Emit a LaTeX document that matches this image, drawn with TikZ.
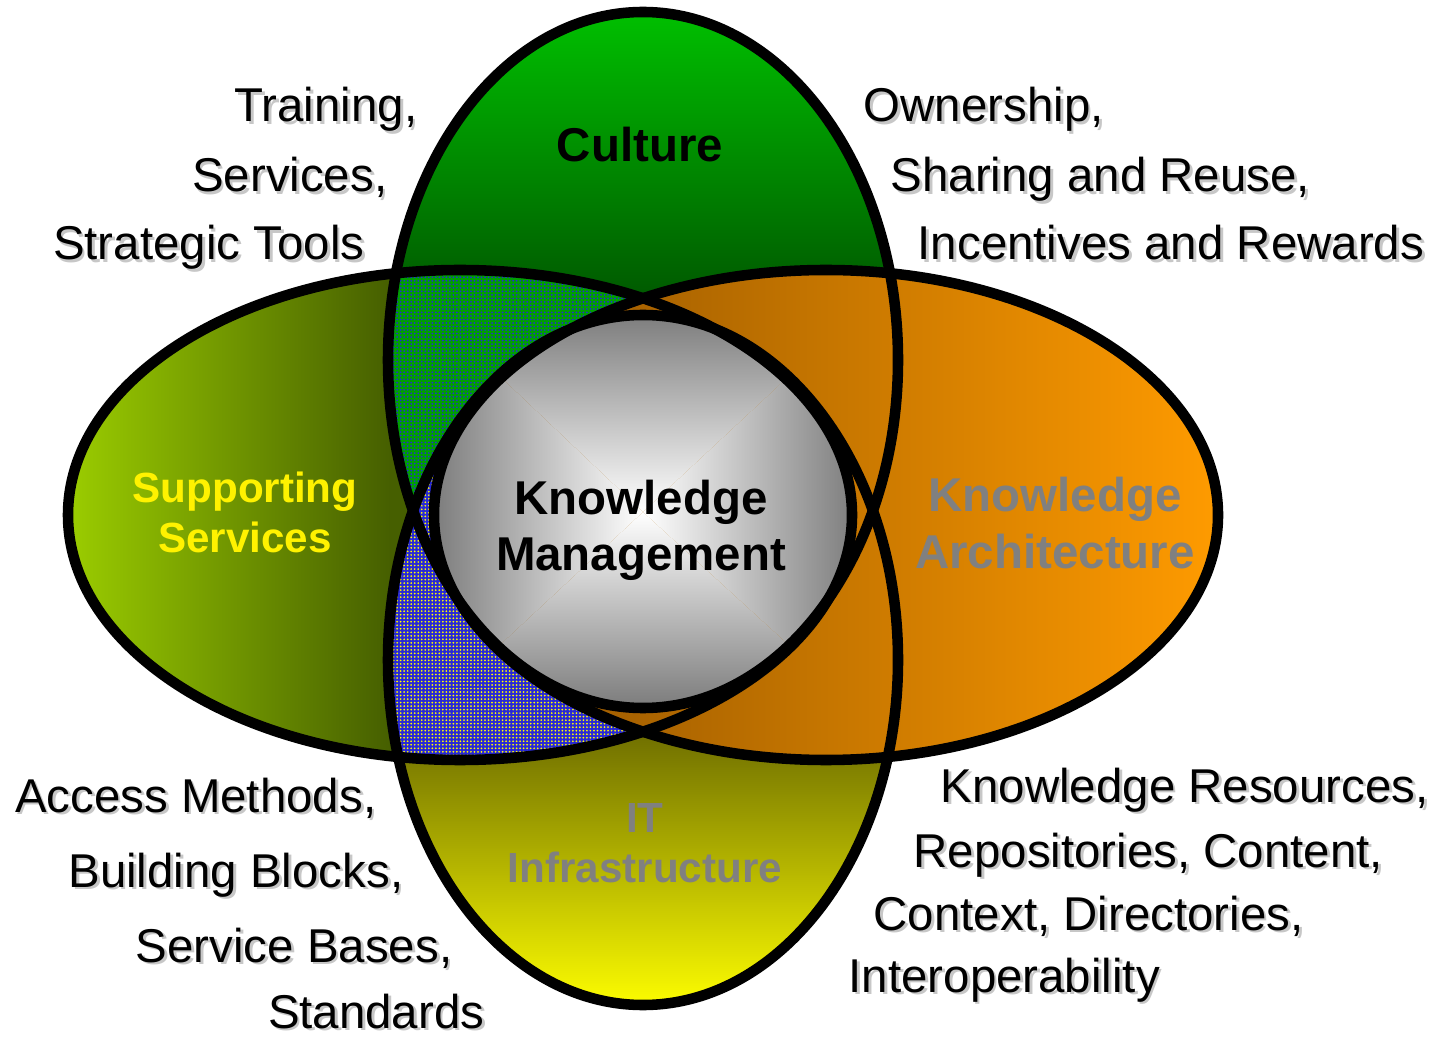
\documentclass[tikz,border=0pt]{standalone}
\usepackage{fontspec}
\setmainfont{Liberation Sans}
\usepackage{xcolor}
\usetikzlibrary{math}
\usetikzlibrary{patterns.meta}

\definecolor{cultTop}{RGB}{0,192,0}
\definecolor{cultBot}{RGB}{0,92,0}
\definecolor{suppL}{RGB}{155,205,0}
\definecolor{suppR}{RGB}{70,95,0}
\definecolor{archL}{RGB}{140,80,0}
\definecolor{archR}{RGB}{255,155,0}
\definecolor{itTop}{RGB}{115,115,0}
\definecolor{itBot}{RGB}{255,255,0}
\definecolor{kmEdge}{RGB}{122,122,122}
\definecolor{dotGreen}{RGB}{0,160,0}
\definecolor{dotBlue}{RGB}{40,40,215}
\definecolor{labelGrey}{RGB}{128,128,128}

% text with a light drop shadow
\newcommand{\shtext}[1]{\makebox[0pt][l]{\kern0.8pt\raisebox{-0.8pt}{\color{black!22}#1}}#1}

\tikzset{
  outline/.style={draw=black, line width=3pt},
  sidetext/.style={font=\fontsize{13.5}{16}\selectfont, inner sep=0pt},
  settitle/.style={font=\fontsize{13.5}{16}\selectfont\bfseries, align=center, inner sep=0pt},
  smalltitle/.style={font=\fontsize{12}{14.2}\selectfont\bfseries, align=center, inner sep=0pt},
  fine dots/.style={pattern={Dots[distance=1pt, radius=0.28pt]}, pattern color=#1},
}

\begin{document}
\begin{tikzpicture}
\tikzmath{
\cx=6.43;
\ty=-3.60; \by=-6.60;
\vrx=2.55; \try=3.48; \bry=3.45;
\lx=4.60; \rx=8.26; \hy=-5.15;
\hrx=3.92; \hry=2.45;
}
\useasboundingbox (0,0) rectangle (14.38,-10.40);

\def\topset{(\cx,\ty) ellipse [x radius=\vrx, y radius=\try]}
\def\botset{(\cx,\by) ellipse [x radius=\vrx, y radius=\bry]}
\def\leftset{(\lx,\hy) ellipse [x radius=\hrx, y radius=\hry]}
\def\rightset{(\rx,\hy) ellipse [x radius=\hrx, y radius=\hry]}

% culture
\fill[cultBot] \topset;
\begin{scope}
\clip \topset;
\shade[top color=cultTop, bottom color=cultBot] (\cx-\vrx,-0.1) rectangle (\cx+\vrx,-2.9);
\end{scope}

% IT infrastructure
\fill[itTop] \botset;
\begin{scope}
\clip \botset;
\shade[top color=itTop, bottom color=itBot] (\cx-\vrx,-7.4) rectangle (\cx+\vrx,-10.1);
\end{scope}

% supporting services
\fill[suppR] \leftset;
\begin{scope}
\clip \leftset;
\shade[left color=suppL, right color=suppR] (0.68,-2.6) rectangle (3.9,-7.7);
\end{scope}

% dotted overlaps on the left
\begin{scope}
\clip \topset;
\fill[dotGreen] \leftset;
\fill[fine dots=dotBlue] \leftset;
\end{scope}
\begin{scope}
\clip \botset;
\fill[dotBlue] \leftset;
\fill[fine dots=yellow] \leftset;
\end{scope}

% knowledge architecture
\begin{scope}
\clip \rightset;
\shade[left color=archL, right color=archR] (4.34,-2.6) rectangle (12.2,-7.7);
\end{scope}

% knowledge management: all four sets
\coordinate (kmc) at (6.43,-5.12);
\begin{scope}
\clip \topset; \clip \botset; \clip \leftset; \clip \rightset;
\begin{scope}
\clip (kmc) -- (4.3,-3.1) -- (8.6,-3.1) -- cycle;
\shade[top color=kmEdge, bottom color=white] (4.3,-3.1) rectangle (8.6,-5.12);
\end{scope}
\begin{scope}
\clip (kmc) -- (4.3,-7.1) -- (8.6,-7.1) -- cycle;
\shade[top color=white, bottom color=kmEdge] (4.3,-5.12) rectangle (8.6,-7.1);
\end{scope}
\begin{scope}
\clip (kmc) -- (4.3,-3.1) -- (4.3,-7.1) -- cycle;
\shade[left color=kmEdge, right color=white] (4.3,-3.1) rectangle (6.43,-7.1);
\end{scope}
\begin{scope}
\clip (kmc) -- (8.6,-3.1) -- (8.6,-7.1) -- cycle;
\shade[left color=white, right color=kmEdge] (6.43,-3.1) rectangle (8.6,-7.1);
\end{scope}
\end{scope}

\draw[outline] \topset;
\draw[outline] \botset;
\draw[outline] \leftset;
\draw[outline] \rightset;

% set names
\node[settitle] (culture) at (6.40,-1.45) {Culture};
\node[settitle] (km) at (6.41,-5.30) {Knowledge\\Management};
\node[smalltitle, text=yellow] (supp) at (2.45,-5.12) {Supporting\\Services};
\node[settitle, text=labelGrey] (arch) at (10.55,-5.23) {Knowledge\\Architecture};
\node[smalltitle, text=labelGrey] (infra) at (6.45,-8.43) {IT\\Infrastructure};

% notes round the sets
\node[sidetext, anchor=base east] (train) at (4.18,-1.22) {\shtext{Training,}};
\node[sidetext, anchor=base east] (serv) at (3.88,-1.92) {\shtext{Services,}};
\node[sidetext, anchor=base east] (tools) at (3.65,-2.60) {\shtext{Strategic Tools}};

\node[sidetext, anchor=base west] (own) at (8.63,-1.22) {\shtext{Ownership,}};
\node[sidetext, anchor=base west] (share) at (8.90,-1.92) {\shtext{Sharing and Reuse,}};
\node[sidetext, anchor=base west] (reward) at (9.17,-2.60) {\shtext{Incentives and Rewards}};

\node[sidetext, anchor=base east] (access) at (3.77,-8.12) {\shtext{Access Methods,}};
\node[sidetext, anchor=base east] (blocks) at (4.04,-8.87) {\shtext{Building Blocks,}};
\node[sidetext, anchor=base east] (bases) at (4.53,-9.62) {\shtext{Service Bases,}};
\node[sidetext, anchor=base east] (stand) at (4.85,-10.28) {\shtext{Standards}};

\node[sidetext, anchor=base west] (res) at (9.40,-8.02) {\shtext{Knowledge Resources,}};
\node[sidetext, anchor=base west] (repo) at (9.13,-8.67) {\shtext{Repositories, Content,}};
\node[sidetext, anchor=base west] (ctx) at (8.73,-9.30) {\shtext{Context, Directories,}};
\node[sidetext, anchor=base west] (interop) at (8.48,-9.92) {\shtext{Interoperability}};
\end{tikzpicture}
\end{document}
